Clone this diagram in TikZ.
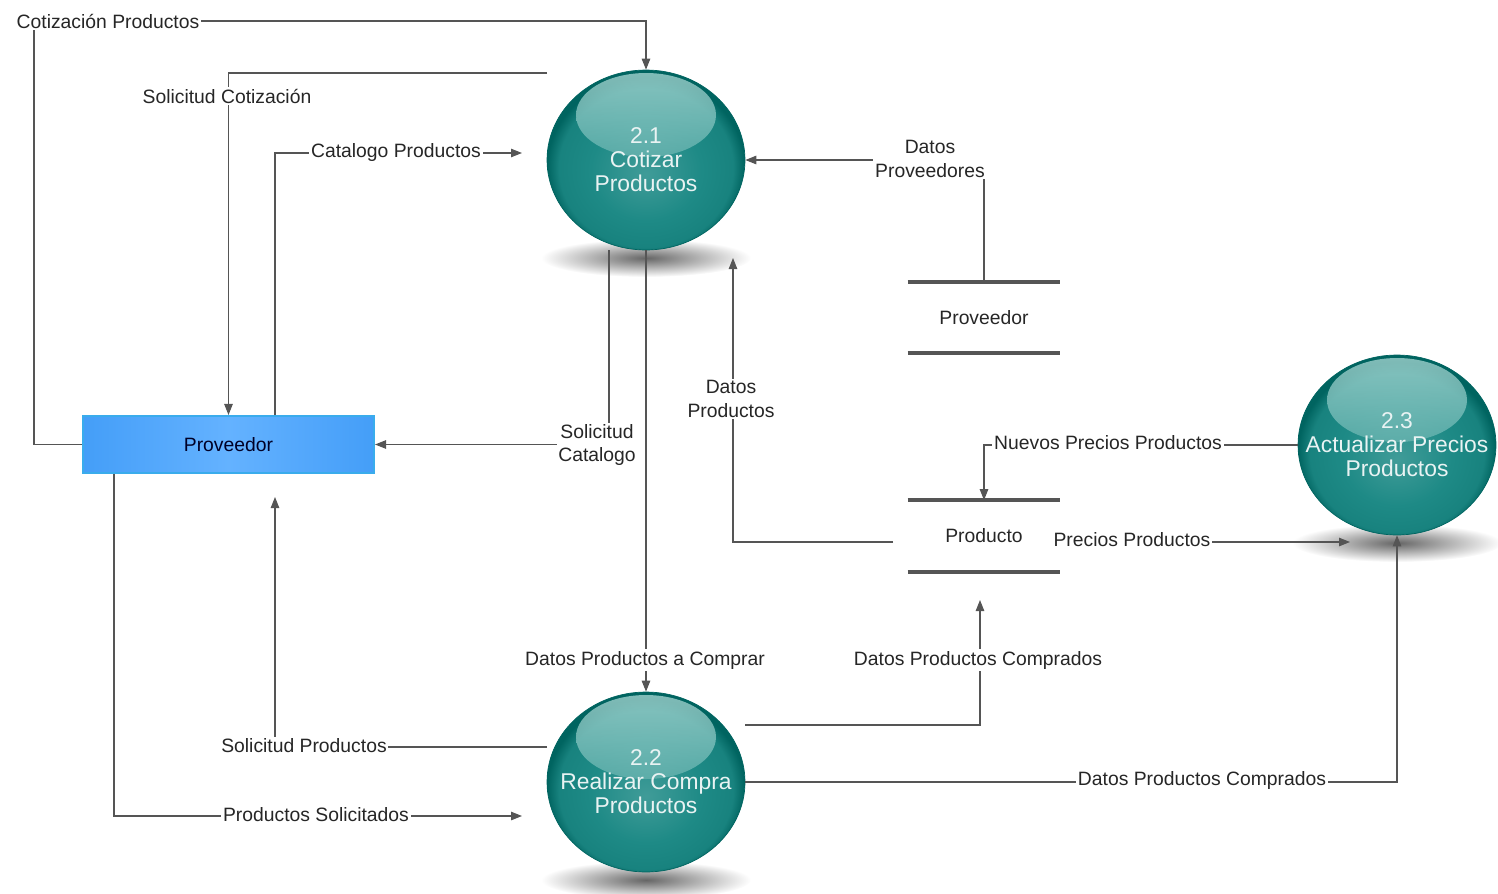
\documentclass[tikz,border=0pt]{standalone}
\usepackage{fontspec}
\setmainfont{Liberation Sans}
\usetikzlibrary{shapes.geometric,arrows.meta,calc}

\definecolor{tealmid}{RGB}{30,138,134}
\definecolor{tealdark}{RGB}{0,100,96}
\definecolor{tealhi}{RGB}{185,226,222}
\definecolor{flowgray}{RGB}{85,85,85}
\definecolor{boxblue}{RGB}{68,158,248}
\definecolor{boxlight}{RGB}{100,178,255}
\definecolor{boxedge}{RGB}{58,172,236}

\pgfdeclareradialshading{ball}{\pgfpoint{0bp}{-4bp}}{color(0bp)=(tealmid!85!white);
  color(14bp)=(tealmid); color(22bp)=(tealmid!80!tealdark); color(25bp)=(tealdark);
  color(50bp)=(tealdark)}

\tikzset{
  proc/.style={ellipse, minimum width=3.96cm, minimum height=3.6cm, inner sep=0pt,
    inner xsep=-0.6cm, draw=tealdark, shading=ball,
    text=white!90!tealmid, align=center, font=\fontsize{13}{13.6}\selectfont,
    path picture={\shade[top color=tealhi, bottom color=tealmid, opacity=0.7]
      ($(path picture bounding box.center)+(0,0.9cm)$) ellipse [x radius=1.4cm, y radius=0.84cm];}},
  shadow/.style={inner color=black!60, outer color=white},
  ext/.style={rectangle, draw=boxedge, line width=1.2pt, minimum width=5.82cm,
    minimum height=1.14cm, left color=boxblue, right color=boxblue, middle color=boxlight,
    text=black!85!blue, font=\fontsize{11}{13.2}\selectfont},
  store/.style={minimum width=3.04cm, minimum height=1.42cm, inner sep=0pt,
    font=\fontsize{11}{13.2}\selectfont, text=black!85},
  bar/.style={draw=flowgray, line width=2.3pt},
  flow/.style={draw=flowgray, line width=0.6pt, -{Triangle[length=0.22cm,width=0.17cm]}},
  lbl/.style={fill=white, inner sep=1pt, align=center, text=black!85,
    font=\fontsize{11}{13.2}\selectfont}
}

\begin{document}
\begin{tikzpicture}[x=0.02cm, y=-0.02cm]

\useasboundingbox (0,0) rectangle (1498,893);

\shade[shadow] (646,258) ellipse [x radius=2.1cm, y radius=0.38cm];
\shade[shadow] (646,880) ellipse [x radius=2.1cm, y radius=0.38cm];
\shade[shadow] (1397,543) ellipse [x radius=2.1cm, y radius=0.38cm];

\node[proc] (p1) at (646,160) {2.1\\Cotizar\\Productos};
\node[proc] (p2) at (646,782) {2.2\\Realizar Compra\\Productos};
\node[proc] (p3) at (1397,445) {2.3\\Actualizar Precios\\Productos};

\node[ext] (e1) at (228.5,444.5) {Proveedor};

\node[store] (s1) at (984,317.5) {Proveedor};
\draw[bar] (s1.north west) -- (s1.north east);
\draw[bar] (s1.south west) -- (s1.south east);

\node[store] (s2) at (984,536) {Producto};
\draw[bar] (s2.north west) -- (s2.north east);
\draw[bar] (s2.south west) -- (s2.south east);

\coordinate (c1) at (547,73);
\coordinate (c3) at (522,153);
\coordinate (c4) at (893,542);
\coordinate (c5) at (733,258);
\coordinate (c6) at (1062,542);
\coordinate (c7) at (1350,542);
\coordinate (c8) at (745,725);
\coordinate (c9) at (980,600);
\coordinate (c10) at (547,747);
\coordinate (c11) at (275,497);
\coordinate (c12) at (522,816);

\draw[flow] (e1.west) -| (34,21) -| (p1.north);
\draw[flow] (c1) -| (e1.north);
\draw[flow] ([xshift=0.93cm]e1.north) |- (c3);
\draw[flow] (s1.north) |- (p1.east);
\draw[flow] ([xshift=-0.74cm]p1.south) |- (e1.east);
\draw[flow] (p1.south) -- (p2.north);
\draw[flow] (c4) -| (c5);
\draw[flow] (p3.west) -| (s2.north);
\draw[flow] (c6) -- (c7);
\draw[flow] (c8) -| (c9);
\draw[flow] (p2.east) -| (p3.south);
\draw[flow] (c10) -| (c11);
\draw[flow] ([xshift=-2.29cm]e1.south) |- (c12);

\node[lbl] (l1) at (108,21) {Cotización Productos};
\node[lbl] (l2) at (227,96) {Solicitud Cotización};
\node[lbl] (l3) at (396,152) {Catalogo Productos};
\node[lbl] (l4) at (930,159) {Datos\\Proveedores};
\node[lbl] (l5) at (597,445) {Solicitud\\Catalogo};
\node[lbl] (l6) at (731,399) {Datos\\Productos};
\node[lbl] (l7) at (1108,443) {Nuevos Precios Productos};
\node[lbl] (l8) at (1132,540) {Precios Productos};
\node[lbl] (l9) at (645,660) {Datos Productos a Comprar};
\node[lbl] (l10) at (978,660) {Datos Productos Comprados};
\node[lbl] (l11) at (1202,780) {Datos Productos Comprados};
\node[lbl] (l12) at (304,746) {Solicitud Productos};
\node[lbl] (l13) at (316,815) {Productos Solicitados};

\end{tikzpicture}
\end{document}
